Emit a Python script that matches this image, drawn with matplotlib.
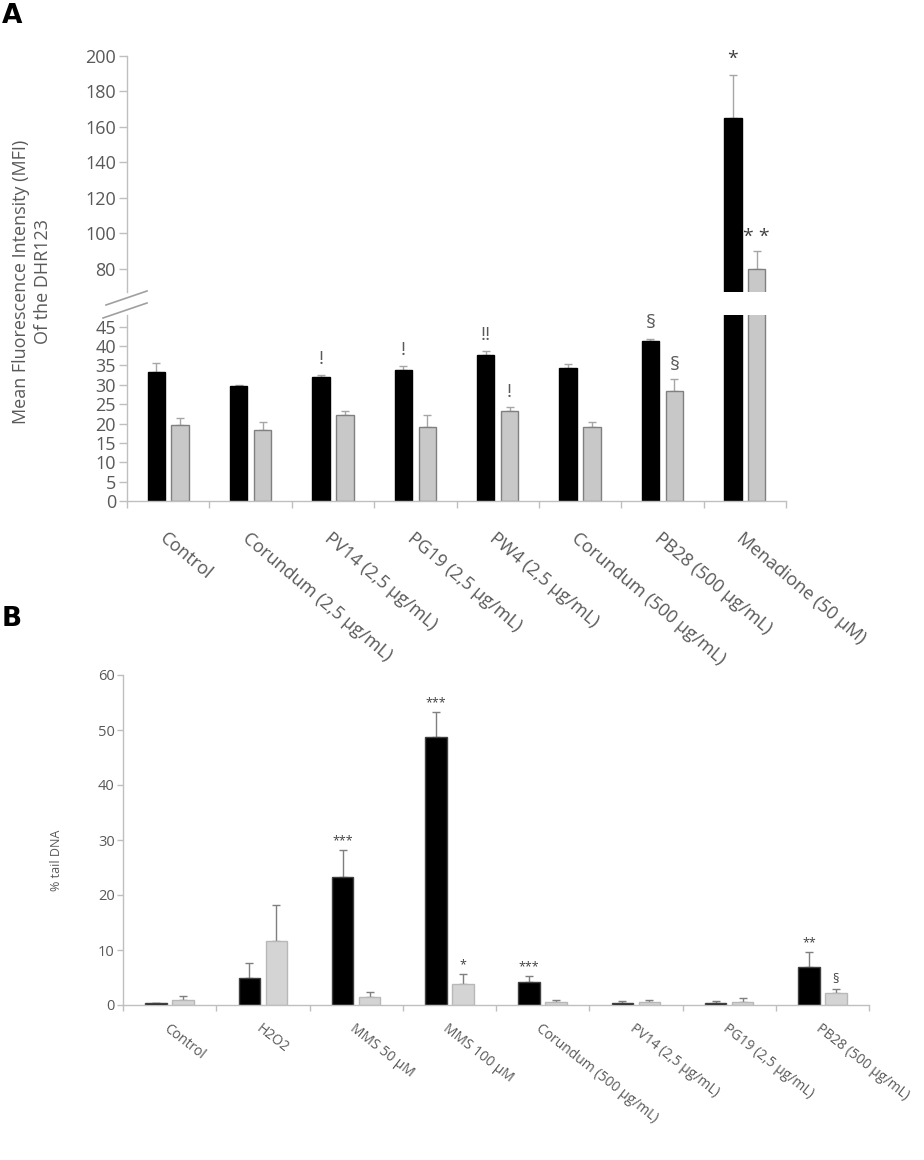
import matplotlib
matplotlib.use("Agg")
import matplotlib.pyplot as plt
from matplotlib.lines import Line2D
import numpy as np

plt.rcParams['font.family'] = ['Open Sans', 'DejaVu Sans']

# ---------------- data ----------------
catsA = ['Control', 'Corundum (2,5 µg/mL)', 'PV14 (2,5 µg/mL)', 'PG19 (2,5 µg/mL)',
         'PW4 (2,5 µg/mL)', 'Corundum (500 µg/mL)', 'PB28 (500 µg/mL)', 'Menadione (50 µM)']
blackA = [33.4, 29.6, 31.9, 33.9, 37.6, 34.2, 41.2, 165]
blackA_err = [2.3, 0.3, 0.6, 1.0, 1.2, 1.2, 0.7, 24.5]
greyA = [19.5, 18.4, 22.3, 19.2, 23.1, 19.2, 28.4, 80]
greyA_err = [1.8, 1.9, 0.8, 3.1, 1.2, 1.2, 3.0, 10]
annA_black = ['', '', '!', '!', '!!', '', '§', '*']
annA_grey = ['', '', '', '', '!', '', '§', '* *']

catsB = ['Control', 'H2O2', 'MMS 50 µM', 'MMS 100 µM', 'Corundum (500 µg/mL)',
         'PV14 (2,5 µg/mL)', 'PG19 (2,5 µg/mL)', 'PB28 (500 µg/mL)']
blackB = [0.3, 4.85, 23.2, 48.8, 4.2, 0.45, 0.45, 6.85]
blackB_err = [0.15, 2.75, 5.0, 4.5, 1.1, 0.35, 0.3, 2.85]
greyB = [1.0, 11.6, 1.4, 3.8, 0.6, 0.55, 0.6, 2.1]
greyB_err = [0.6, 6.6, 1.0, 1.8, 0.3, 0.3, 0.7, 0.9]
annB_black = ['', '', '***', '***', '***', '', '', '**']
annB_grey = ['', '', '', '*', '', '', '', '§']

TXT = '#595959'
SPINE = '#BFBFBF'

W, H = 924, 1160
fig = plt.figure(figsize=(W / 100, H / 100), dpi=100)


def ax_rect(x0, y0, x1, y1):
    return [x0 / W, 1 - y1 / H, (x1 - x0) / W, (y1 - y0) / H]


def style_axes(ax, tick_size, tick_len):
    for s in ['top', 'right']:
        ax.spines[s].set_visible(False)
    for s in ['left', 'bottom']:
        ax.spines[s].set_color(SPINE)
        ax.spines[s].set_linewidth(1.0)
    ax.tick_params(axis='y', colors=SPINE, labelcolor=TXT, labelsize=tick_size,
                   length=tick_len, width=1, direction='out', pad=2)


def draw_bars(ax, x, vals, errs, width, off, fc, ec, errc, lw=1.0):
    ax.bar(x - off, vals[0], width, color=fc[0], edgecolor=ec[0], linewidth=lw, zorder=2)
    ax.bar(x + off, vals[1], width, color=fc[1], edgecolor=ec[1], linewidth=lw, zorder=2)
    ax.errorbar(x - off, vals[0], yerr=[np.zeros(len(x)), errs[0]], fmt='none',
                ecolor=errc, elinewidth=1, capsize=3, capthick=1, zorder=1)
    ax.errorbar(x + off, vals[1], yerr=[np.zeros(len(x)), errs[1]], fmt='none',
                ecolor=errc, elinewidth=1, capsize=3, capthick=1, zorder=1)


def annotate(ax, x, tops, labels, size, color, dy, ylim):
    for xi, t, lab in zip(x, tops, labels):
        if lab and ylim[0] <= t <= ylim[1]:
            ax.annotate(lab, (xi, t), xytext=(0, dy), textcoords='offset points',
                        ha='center', va='bottom', fontsize=size, color=color)


# ---------------- Panel A ----------------
xA = np.arange(len(catsA))
wA, oA = 0.21, 0.145
fcA = ['black', '#C8C8C8']
ecA = ['black', '#808080']

axU = fig.add_axes(ax_rect(127, 56, 786, 292))
axL = fig.add_axes(ax_rect(127, 315, 786, 501))
for ax, ylim in [(axU, (67, 200)), (axL, (0, 48))]:
    style_axes(ax, 13, 6)
    draw_bars(ax, xA, (blackA, greyA), (blackA_err, greyA_err), wA, oA, fcA, ecA, '#A6A6A6')
    ax.set_xlim(-0.5, len(catsA) - 0.5)
    ax.set_ylim(*ylim)
    topsB = np.array(blackA) + np.array(blackA_err)
    topsG = np.array(greyA) + np.array(greyA_err)
    col = TXT if ax is axL else '#404040'
    annotate(ax, xA - oA, topsB, annA_black, 14, col, 5, ylim)
    annotate(ax, xA + oA, topsG, annA_grey, 14, col, 4, ylim)

axU.set_yticks(np.arange(80, 201, 20))
axU.spines['bottom'].set_visible(False)
axU.set_xticks([])
axL.set_yticks(np.arange(0, 46, 5))
axL.set_xticks(xA)
axL.set_xticks(np.arange(-0.5, len(catsA), 1), minor=True)
axL.tick_params(axis='x', which='major', length=0, pad=20, labelsize=13, labelcolor=TXT)
axL.tick_params(axis='x', which='minor', length=5, width=1, color=SPINE, direction='out')
axL.set_xticklabels(catsA, rotation=-40, ha='left', va='top', rotation_mode='anchor')

fig.text(32 / W, 1 - 282 / H, 'Mean Fluorescence Intensity (MFI)\nOf the DHR123',
         rotation=90, ha='center', va='center', multialignment='center',
         fontsize=13, color=TXT, linespacing=1.35)

# axis break marks
for (x0, y0, x1, y1) in [(106, 305, 147, 291), (103, 318, 147, 303)]:
    fig.add_artist(Line2D([x0 / W, x1 / W], [1 - y0 / H, 1 - y1 / H],
                          color='#A0A0A0', linewidth=1.2))

fig.text(2 / W, 1 - 3 / H, 'A', fontsize=19, fontweight='bold', ha='left', va='top',
         family='DejaVu Sans', color='black')

# ---------------- Panel B ----------------
xB = np.arange(len(catsB))
wB, oB = 0.23, 0.145
axB = fig.add_axes(ax_rect(123, 675, 869, 1005))
style_axes(axB, 10.5, 4)
draw_bars(axB, xB, (blackB, greyB), (blackB_err, greyB_err), wB, oB,
          ['black', '#D4D4D4'], ['#404040', '#B8B8B8'], '#7F7F7F')
axB.set_xlim(-0.5, len(catsB) - 0.5)
axB.set_ylim(0, 60)
axB.set_yticks(np.arange(0, 61, 10))
axB.set_xticks(xB)
axB.set_xticks(np.arange(-0.5, len(catsB), 1), minor=True)
axB.tick_params(axis='x', which='major', length=0, pad=12, labelsize=10, labelcolor=TXT)
axB.tick_params(axis='x', which='minor', length=4, width=1, color=SPINE, direction='out')
axB.set_xticklabels(catsB, rotation=-38, ha='left', va='top', rotation_mode='anchor')
topsBb = np.array(blackB) + np.array(blackB_err)
topsBg = np.array(greyB) + np.array(greyB_err)
annotate(axB, xB - oB, topsBb, annB_black, 9, '#404040', 2, (0, 60))
annotate(axB, xB + oB, topsBg, annB_grey, 9, '#404040', 2, (0, 60))

fig.text(56 / W, 1 - 860 / H, '% tail DNA', rotation=90, ha='center', va='center',
         fontsize=9, color=TXT)
fig.text(2 / W, 1 - 606 / H, 'B', fontsize=19, fontweight='bold', ha='left', va='top',
         family='DejaVu Sans', color='black')

fig.savefig('out.png', dpi=100)
